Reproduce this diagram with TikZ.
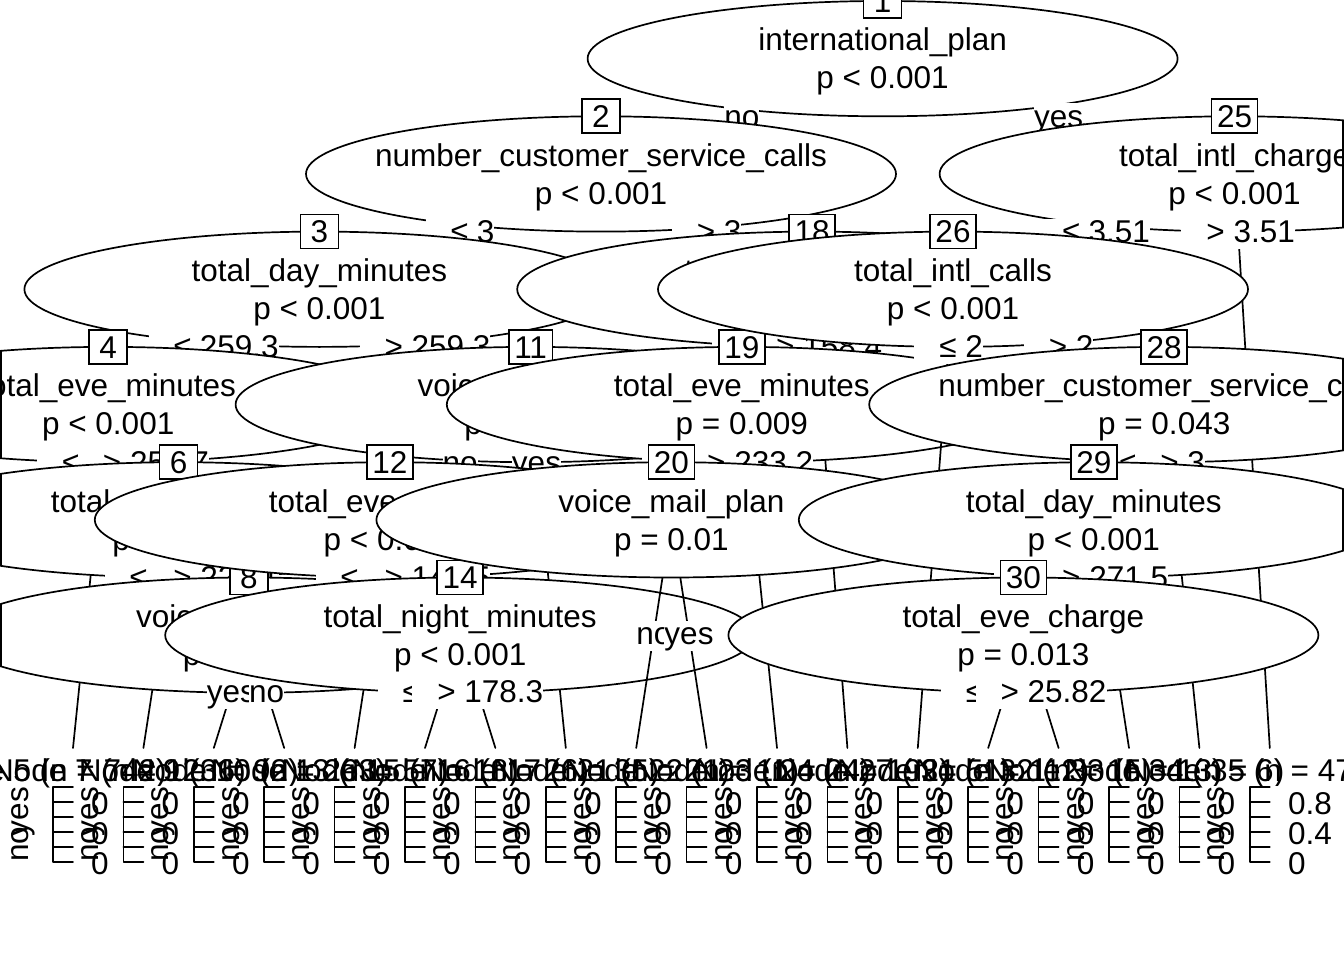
\documentclass[tikz,border=0pt]{standalone}
\usepackage{fontspec}
\setmainfont{Liberation Sans}
\newcommand{\fsz}{\fontsize{31.5pt}{37.8pt}\selectfont}
\tikzset{
  lw/.style={line width=1.7pt, line cap=round, line join=round},
  ell/.style={lw, fill=white},
  txt/.style={font=\fsz, inner sep=0pt, anchor=base},
  idbox/.style={draw, line width=1.7pt, fill=white, font=\fsz, minimum width=38pt, minimum height=34pt,
                inner xsep=5.5pt, inner ysep=0pt, text height=22.5pt, text depth=0pt},
  elab/.style={fill=white, font=\fsz, inner sep=0pt, text height=24pt, text depth=6pt, anchor=base},
  vlab/.style={font=\fsz, inner sep=0pt, rotate=90},
  edge/.style={lw}
}
% inner node: #1 id, #2 x, #3 box y, #4 first line, #5 second line
\newcommand{\innernode}[5]{%
  \pgfmathsetmacro\yc{#3+57.65}%
  \pgfmathsetmacro\ya{#3+50}%
  \pgfmathsetmacro\yb{#3+88}%
  \begin{scope}
    \clip (0,0) rectangle (1344,960);
    \filldraw[ell] (#2,\yc) ellipse (295pt and 57.65pt);
  \end{scope}
  \begin{scope}
    \clip (#2,\yc) ellipse (295pt and 57.65pt);
    \draw[line width=3.4pt] (0,0) -- (0,960) (1344,0) -- (1344,960);
  \end{scope}
  \node[txt] (t#1a) at (#2,\ya) {#4};
  \node[txt] (t#1b) at (#2,\yb) {#5};
  \node[idbox] (b#1) at (#2,#3) {#1};
}
% edge label: #1 name, #2 x, #3 y (centre), #4 text
\newcommand{\elabel}[4]{%
  \pgfmathsetmacro\yl{#3+11}%
  \node[elab] (e#1) at (#2,\yl) {#4};
}
\newcommand{\cmp}[1]{\hspace*{25pt}#1}
% leaf panel: #1 id, #2 x, #3 n
\newcommand{\leafpanel}[3]{%
  \fill[white] ({#2-35},786) rectangle ({#2+35},885);
  \node[txt] (lt#1) at ({#2-25},781) {Node #1 (n = #3)};
  \draw[lw] (#2,787) -- ({#2-20},787) -- ({#2-20},862) -- (#2,862);
  \foreach \yy in {802,817,832,847} \draw[lw] ({#2-20},\yy) -- (#2,\yy);
  \node[vlab, anchor=base west] (ln#1) at ({#2-45},862) {no};
  \node[vlab, anchor=base east] (ly#1) at ({#2-45},787) {yes};
  \node[txt, anchor=base west] (la#1) at ({#2+18},814) {0.8};
  \node[txt, anchor=base west] (lb#1) at ({#2+18},844) {0.4};
  \node[txt, anchor=base west] (lc#1) at ({#2+18},874) {0};
}
\begin{document}
\begin{tikzpicture}[x=1pt,y=-1pt]
\useasboundingbox (0,0) rectangle (1344,960);
\fill[white] (0,0) rectangle (1344,960);
% centres of inner nodes
\coordinate (c1) at (882.6,58.65);
\coordinate (c2) at (601.0,173.95);
\coordinate (c25) at (1234.6,173.95);
\coordinate (c3) at (319.4,289.25);
\coordinate (c18) at (812.2,289.25);
\coordinate (c26) at (953.0,289.25);
\coordinate (c4) at (108.2,404.55);
\coordinate (c11) at (530.6,404.55);
\coordinate (c19) at (741.8,404.55);
\coordinate (c28) at (1164.2,404.55);
\coordinate (c6) at (178.6,519.85);
\coordinate (c12) at (389.8,519.85);
\coordinate (c20) at (671.4,519.85);
\coordinate (c29) at (1093.8,519.85);
\coordinate (c8) at (249.0,635.15);
\coordinate (c14) at (460.2,635.15);
\coordinate (c30) at (1023.4,635.15);
% tops of terminal nodes
\coordinate (c5) at (73.0,748);
\coordinate (c7) at (143.4,748);
\coordinate (c9) at (213.8,748);
\coordinate (c10) at (284.2,748);
\coordinate (c13) at (354.6,748);
\coordinate (c15) at (425.0,748);
\coordinate (c16) at (495.4,748);
\coordinate (c17) at (565.8,748);
\coordinate (c21) at (636.2,748);
\coordinate (c22) at (706.6,748);
\coordinate (c23) at (777.0,748);
\coordinate (c24) at (847.4,748);
\coordinate (c27) at (917.8,748);
\coordinate (c31) at (988.2,748);
\coordinate (c32) at (1058.6,748);
\coordinate (c33) at (1129.0,748);
\coordinate (c34) at (1199.4,748);
\coordinate (c35) at (1269.8,748);

% ---- node 1
\draw[edge] (c1) -- (c2); \draw[edge] (c1) -- (c25);
\innernode{1}{882.6}{1.0}{international\_plan}{p < 0.001}
\elabel{2}{741.8}{116.3}{no}
\elabel{25}{1058.6}{116.3}{yes}
% ---- node 2
\draw[edge] (c2) -- (c3); \draw[edge] (c2) -- (c18);
\innernode{2}{601.0}{116.3}{number\_customer\_service\_calls}{p < 0.001}
\elabel{3}{460.2}{231.6}{\cmp{≤ 3}}
\elabel{18}{706.6}{231.6}{\cmp{> 3}}
% ---- node 3
\draw[edge] (c3) -- (c4); \draw[edge] (c3) -- (c11);
\innernode{3}{319.4}{231.6}{total\_day\_minutes}{p < 0.001}
\elabel{4}{213.8}{346.9}{\cmp{≤ 259.3}}
\elabel{11}{425.0}{346.9}{\cmp{> 259.3}}
% ---- node 4
\draw[edge] (c4) -- (c5); \draw[edge] (c4) -- (c6);
\innernode{4}{108.2}{346.9}{total\_eve\_minutes}{p < 0.001}
\elabel{5}{102.3}{462.2}{\cmp{≤ 253.7}}
\elabel{6}{143.4}{462.2}{\cmp{> 253.7}}
\leafpanel{5}{73.0}{742}
% ---- node 6
\draw[edge] (c6) -- (c7); \draw[edge] (c6) -- (c8);
\innernode{6}{178.6}{462.2}{total\_eve\_minutes}{p < 0.001}
\elabel{7}{169.7}{577.5}{\cmp{≤ 226.1}}
\elabel{8}{213.8}{577.5}{\cmp{> 226.1}}
\leafpanel{7}{143.4}{1236}
% ---- node 8
\draw[edge] (c8) -- (c9); \draw[edge] (c8) -- (c10);
\innernode{8}{249.0}{577.5}{voice\_mail\_plan}{p = 0.016}
\elabel{9}{231.4}{691.6}{yes}
\elabel{10}{266.6}{691.6}{no}
\leafpanel{9}{213.8}{92}
\leafpanel{10}{284.2}{263}
% ---- node 11
\draw[edge] (c11) -- (c12); \draw[edge] (c11) -- (c17);
\innernode{11}{530.6}{346.9}{voice\_mail\_plan}{p < 0.001}
\elabel{12}{460.2}{462.2}{no}
\elabel{17}{536.5}{462.2}{yes}
% ---- node 12
\draw[edge] (c12) -- (c13); \draw[edge] (c12) -- (c14);
\innernode{12}{389.8}{462.2}{total\_eve\_charge}{p < 0.001}
\elabel{13}{380.9}{577.5}{\cmp{≤ 14.85}}
\elabel{14}{425.0}{577.5}{\cmp{> 14.85}}
\leafpanel{13}{354.6}{57}
% ---- node 14
\draw[edge] (c14) -- (c15); \draw[edge] (c14) -- (c16);
\innernode{14}{460.2}{577.5}{total\_night\_minutes}{p < 0.001}
\elabel{15}{442.6}{691.6}{\cmp{≤ 178.3}}
\elabel{16}{477.8}{691.6}{\cmp{> 178.3}}
\leafpanel{15}{425.0}{18}
\leafpanel{16}{495.4}{26}
\leafpanel{17}{565.8}{35}
% ---- node 18
\draw[edge] (c18) -- (c19); \draw[edge] (c18) -- (c24);
\innernode{18}{812.2}{231.6}{total\_day\_minutes}{p < 0.001}
\elabel{19}{777.0}{346.9}{\cmp{≤ 158.4}}
\elabel{24}{816.6}{346.9}{\cmp{> 158.4}}
% ---- node 19
\draw[edge] (c19) -- (c20); \draw[edge] (c19) -- (c23);
\innernode{19}{741.8}{346.9}{total\_eve\_minutes}{p = 0.009}
\elabel{20}{706.6}{462.2}{\cmp{≤ 233.2}}
\elabel{23}{747.7}{462.2}{\cmp{> 233.2}}
% ---- node 20
\draw[edge] (c20) -- (c21); \draw[edge] (c20) -- (c22);
\innernode{20}{671.4}{462.2}{voice\_mail\_plan}{p = 0.01}
\elabel{21}{653.8}{633.9}{no}
\elabel{22}{689.0}{633.9}{yes}
\leafpanel{21}{636.2}{21}
\leafpanel{22}{706.6}{11}
\leafpanel{23}{777.0}{24}
\leafpanel{24}{847.4}{192}
% ---- node 25
\draw[edge] (c25) -- (c26); \draw[edge] (c25) -- (c35);
\innernode{25}{1234.6}{116.3}{total\_intl\_charge}{p < 0.001}
\elabel{26}{1093.8}{231.6}{\cmp{≤ 3.51}}
\elabel{35}{1238.1}{231.6}{\cmp{> 3.51}}
% ---- node 26
\draw[edge] (c26) -- (c27); \draw[edge] (c26) -- (c28);
\innernode{26}{953.0}{231.6}{total\_intl\_calls}{p < 0.001}
\elabel{27}{948.6}{346.9}{\cmp{≤ 2}}
\elabel{28}{1058.6}{346.9}{\cmp{> 2}}
\leafpanel{27}{917.8}{51}
% ---- node 28
\draw[edge] (c28) -- (c29); \draw[edge] (c28) -- (c34);
\innernode{28}{1164.2}{346.9}{number\_customer\_service\_calls}{p = 0.043}
\elabel{29}{1129.0}{462.2}{\cmp{≤ 3}}
\elabel{34}{1170.1}{462.2}{\cmp{> 3}}
% ---- node 29
\draw[edge] (c29) -- (c30); \draw[edge] (c29) -- (c33);
\innernode{29}{1093.8}{462.2}{total\_day\_minutes}{p < 0.001}
\elabel{30}{1058.6}{577.5}{\cmp{≤ 271.5}}
\elabel{33}{1102.7}{577.5}{\cmp{> 271.5}}
% ---- node 30
\draw[edge] (c30) -- (c31); \draw[edge] (c30) -- (c32);
\innernode{30}{1023.4}{577.5}{total\_eve\_charge}{p = 0.013}
\elabel{31}{1005.8}{691.6}{\cmp{≤ 25.82}}
\elabel{32}{1041.0}{691.6}{\cmp{> 25.82}}
\leafpanel{31}{988.2}{112}
\leafpanel{32}{1058.6}{15}
\leafpanel{33}{1129.0}{13}
\leafpanel{34}{1199.4}{6}
\leafpanel{35}{1269.8}{47}
\end{tikzpicture}
\end{document}
